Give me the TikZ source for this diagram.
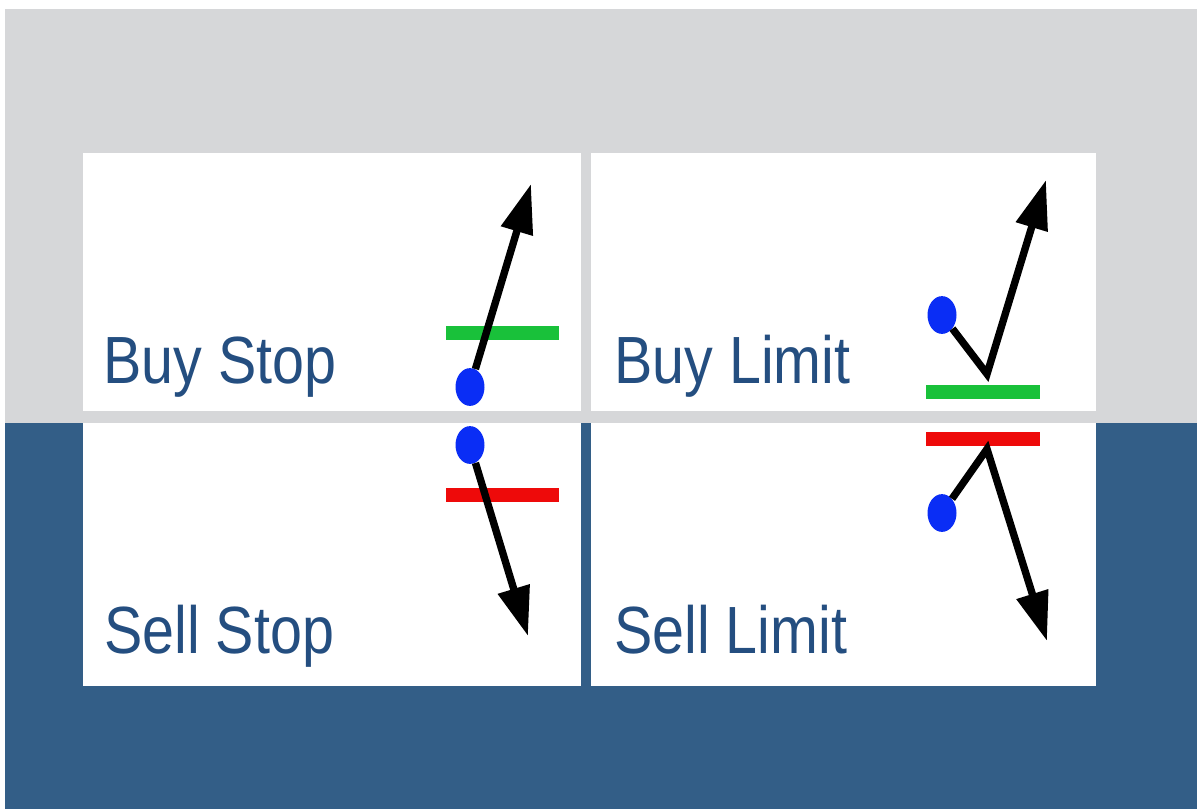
\documentclass[tikz,border=0pt]{standalone}
\usepackage{fontspec}
\setmainfont{Liberation Sans}
\usetikzlibrary{arrows.meta, shapes.geometric}
\definecolor{bggray}{RGB}{214, 215, 217}
\definecolor{bgblue}{RGB}{51, 94, 135}
\definecolor{labelblue}{RGB}{36, 78, 128}
\definecolor{stopgreen}{RGB}{25, 193, 58}
\definecolor{stopred}{RGB}{238, 10, 10}
\definecolor{dotblue}{RGB}{10, 45, 245}

\begin{document}
\begin{tikzpicture}[
    x=0.02cm, y=-0.02cm,
    % Node Styles
    panel/.style={fill=white},
    dot/.style={ellipse, fill=dotblue, inner sep=0pt, minimum width=16.5pt, minimum height=21.5pt},
    tag/.style={anchor=base west, inner sep=0pt, text=labelblue, font=\fontsize{38}{40}\selectfont},
    % Edge Styles
    priceline/.style={line width=4.2pt, black, -{Triangle[length=28pt, width=18pt]}},
    levelbar/.style={line width=7.8pt}
]
\useasboundingbox (0,0) rectangle (1197,809);

% Background
\fill[white] (0,0) rectangle (1197,809);
\fill[bggray] (5,9) rectangle (1197,423);
\fill[bgblue] (5,423) rectangle (1197,809);

% Panels
\fill[panel] (83,153) rectangle (581,411);
\fill[panel] (591,153) rectangle (1096,411);
\fill[panel] (83,423) rectangle (581,686);
\fill[panel] (591,423) rectangle (1096,686);

% Labels
\node[tag] (buystop) at (103,383) {\scalebox{0.86}[1]{Buy Stop}};
\node[tag] (buylimit) at (614,383) {\scalebox{0.86}[1]{Buy Limit}};
\node[tag] (sellstop) at (104,653) {\scalebox{0.86}[1]{Sell Stop}};
\node[tag] (selllimit) at (614,653) {\scalebox{0.86}[1]{Sell Limit}};

% Price levels
\draw[levelbar, stopgreen] (446,333) -- (559,333);
\draw[levelbar, stopred] (446,495) -- (559,495);
\draw[levelbar, stopgreen] (926,392) -- (1040,392);
\draw[levelbar, stopred] (926,439) -- (1040,439);

% Entry points
\node[dot] (d-buystop) at (470,387) {};
\node[dot] (d-sellstop) at (470,445) {};
\node[dot] (d-buylimit) at (942,315) {};
\node[dot] (d-selllimit) at (942,513) {};

% Turning points and arrow tips
\coordinate (v-buylimit) at (987,374);
\coordinate (v-selllimit) at (987,449);
\coordinate (t-buystop) at (531,184);
\coordinate (t-sellstop) at (528,636);
\coordinate (t-buylimit) at (1046,180);
\coordinate (t-selllimit) at (1047,641);

% Price paths
\draw[priceline] (d-buystop) -- (t-buystop);
\draw[priceline] (d-sellstop) -- (t-sellstop);
\draw[priceline] (d-buylimit) -- (v-buylimit) -- (t-buylimit);
\draw[priceline] (d-selllimit) -- (v-selllimit) -- (t-selllimit);

\end{tikzpicture}
\end{document}
